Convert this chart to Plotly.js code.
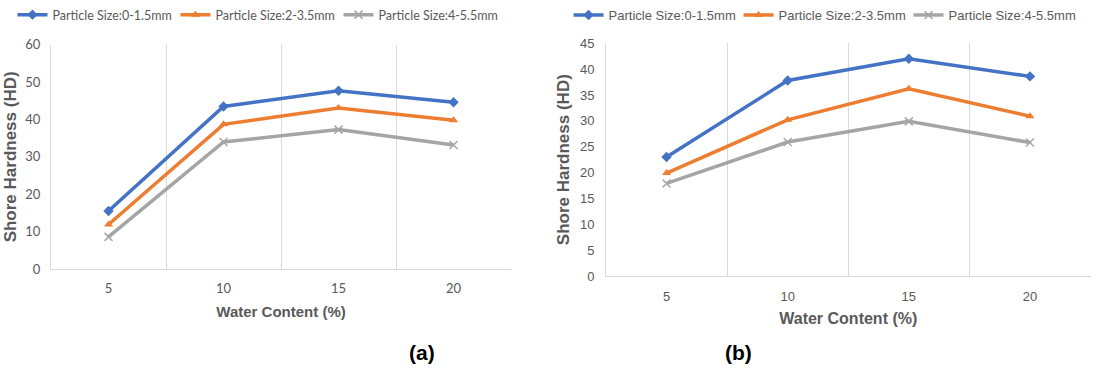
<!DOCTYPE html>
<html><head><meta charset="utf-8">
<script src="https://cdn.plot.ly/plotly-3.0.1.min.js"></script>
<style>html,body{margin:0;padding:0;background:#fff}#chart{width:1104px;height:370px}</style>
</head><body><div id="chart"></div>
<script>
const waterContent = [5, 10, 15, 20];
const seriesNames = ["Particle Size:0-1.5mm", "Particle Size:2-3.5mm", "Particle Size:4-5.5mm"];
// (a)
const a_small = [15.5, 43.5, 47.7, 44.6];
const a_medium = [11.9, 38.7, 43.1, 39.8];
const a_large = [8.6, 34.0, 37.3, 33.2];
// (b)
const b_small = [23.0, 37.8, 42.0, 38.6];
const b_medium = [19.9, 30.2, 36.2, 30.9];
const b_large = [17.9, 25.9, 29.9, 25.8];

const colors = ["#4472C4", "#ED7D31", "#A5A5A5"];
const symbols = ["diamond", "triangle-up", "x-thin-open"];

function mk(y, i, xa, ya, leg) {
  return {
    x: waterContent, y: y, name: seriesNames[i], type: "scatter", mode: "lines+markers",
    xaxis: xa, yaxis: ya, legend: leg,
    line: {color: colors[i], width: 3.5},
    marker: {symbol: symbols[i], size: 8, color: colors[i], line: {color: colors[i], width: i === 2 ? 1.5 : 0}}
  };
}
const data = [
  mk(a_small, 0, "x", "y", "legend"), mk(a_medium, 1, "x", "y", "legend"), mk(a_large, 2, "x", "y", "legend"),
  mk(b_small, 0, "x2", "y2", "legend2"), mk(b_medium, 1, "x2", "y2", "legend2"), mk(b_large, 2, "x2", "y2", "legend2")
];
const tickCol = "#595959";
function xax(dom, fam, titleSize, titleStd, tls) {
  return {
    domain: dom, range: [2.5, 22.5], tickvals: waterContent, ticktext: waterContent.map(String),
    showgrid: false, zeroline: false, showline: true, linecolor: "#D9D9D9", linewidth: 1,
    ticks: "", ticklabelstandoff: tls, tickfont: {family: fam, size: 13, color: tickCol},
    minor: {tickvals: [7.5, 12.5, 17.5], showgrid: true, gridcolor: "#D9D9D9", gridwidth: 1, ticks: ""},
    title: {text: "Water Content (%)", font: {family: "Liberation Sans, Arial", size: titleSize, color: tickCol, weight: "bold"}, standoff: titleStd},
    automargin: false, fixedrange: true
  };
}
function yax(dom, rng, dt, fam, anchor, titleStd, tls) {
  return {
    domain: dom, range: rng, dtick: dt, anchor: anchor, showgrid: false, zeroline: false,
    showline: true, linecolor: "#D9D9D9", linewidth: 1, ticks: "", ticklabelstandoff: tls,
    tickfont: {family: fam, size: 13, color: tickCol},
    title: {text: "Shore Hardness (HD)", font: {family: "Liberation Sans, Arial", size: 17, color: tickCol, weight: "bold"}, standoff: titleStd},
    automargin: true, fixedrange: true
  };
}
const layout = {
  width: 1104, height: 370, margin: {l: 0, r: 0, t: 0, b: 0, autoexpand: false},
  paper_bgcolor: "#fff", plot_bgcolor: "#fff", showlegend: true,
  xaxis: Object.assign(xax([0.0462, 0.4629], "Lato, Liberation Sans", 15, 11, 7), {anchor: "y"}),
  yaxis: yax([0.273, 0.879], [0, 60], 10, "Lato, Liberation Sans", "x", 4, 7),
  xaxis2: Object.assign(xax([0.5489, 0.9878], "Liberation Sans, Arial", 16, 10, 8), {anchor: "y2"}),
  yaxis2: yax([0.254, 0.883], [0, 45], 5, "Liberation Sans, Arial", "x2", 5, 8),
  legend: {orientation: "h", x: 0.0113, y: 1.0, xanchor: "left", yanchor: "top", itemwidth: 30,
    entrywidth: 118, entrywidthmode: "pixels",
    font: {family: "Lato, Liberation Sans", size: 12.5, color: tickCol}, bgcolor: "rgba(0,0,0,0)"},
  legend2: {orientation: "h", x: 0.515, y: 1.0, xanchor: "left", yanchor: "top", itemwidth: 30,
    entrywidth: 125, entrywidthmode: "pixels",
    font: {family: "Liberation Sans, Arial", size: 13, color: tickCol}, bgcolor: "rgba(0,0,0,0)"},
  annotations: [
    {text: "(a)", xref: "paper", yref: "paper", x: 422 / 1104, y: 1 - 352 / 370, xanchor: "center", yanchor: "middle", showarrow: false,
     font: {family: "Liberation Sans, Arial", size: 21, color: "#000", weight: "bold"}},
    {text: "(b)", xref: "paper", yref: "paper", x: 738 / 1104, y: 1 - 352 / 370, xanchor: "center", yanchor: "middle", showarrow: false,
     font: {family: "Liberation Sans, Arial", size: 21, color: "#000", weight: "bold"}}
  ]
};
Plotly.newPlot("chart", data, layout, {displayModeBar: false, staticPlot: true});
</script></body></html>
